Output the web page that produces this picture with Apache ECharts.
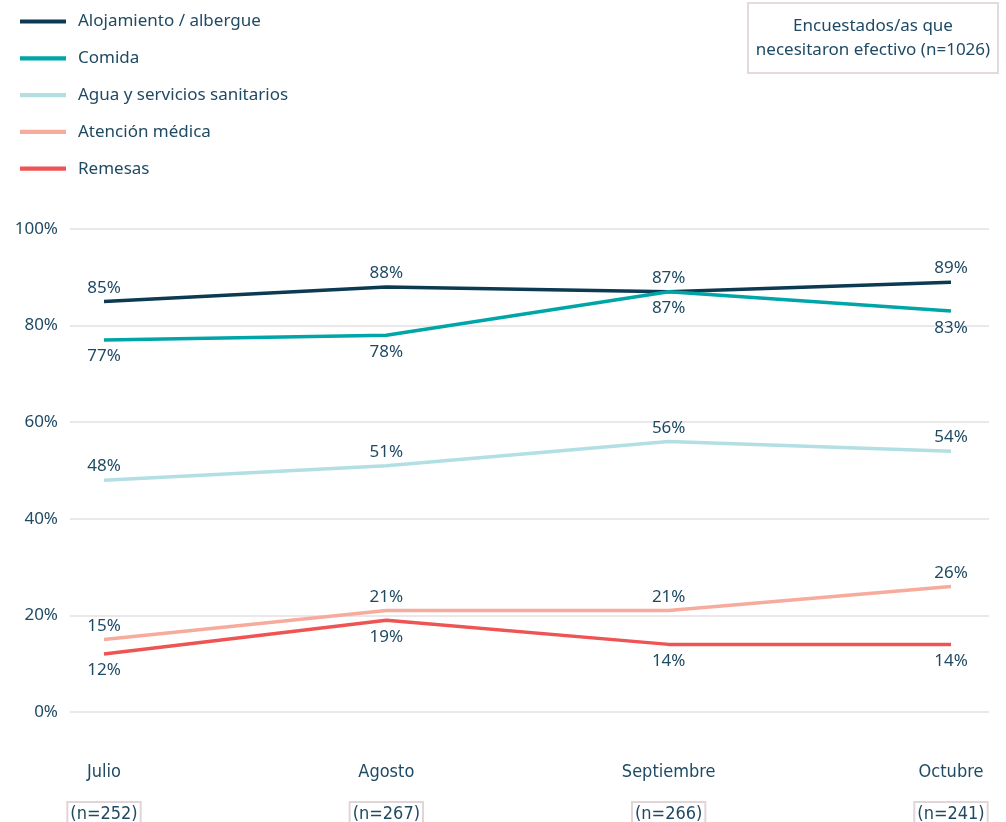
<!DOCTYPE html>
<html>
<head>
<meta charset="utf-8">
<script src="https://cdn.jsdelivr.net/npm/echarts@6/dist/echarts.min.js"></script>
<style>
html,body{margin:0;padding:0;background:#fff;}
#container1{width:1006px;height:822px;}
</style>
</head>
<body>
<div id="container1"></div>
<script>
//数据
var meses=['Julio','Agosto','Septiembre','Octubre'];
var muestras=['(n=252)','(n=267)','(n=266)','(n=241)'];
var nombres=['Alojamiento / albergue','Comida','Agua y servicios sanitarios','Atención médica','Remesas'];
var alojamiento=[85,88,87,89];
var comida=[77,78,87,83];
var agua=[48,51,56,54];
var atencion=[15,21,21,26];
var remesas=[12,19,14,14];
var colores=['#0b3a52','#00a5a8','#b2dfe3','#f7ab9d','#ef5454'];
var posiciones=['top','bottom','top','top','bottom'];

var myChart=echarts.init(document.getElementById('container1'));
var texto='#1f4a63';
var fuente='"Noto Sans", Lato, sans-serif';
var estrecha='"DejaVu Sans Condensed", "Roboto Condensed", Roboto, sans-serif';

function serie(i,datos){
	return {
		name:nombres[i],
		type:'line',
		xAxisIndex:0,
		yAxisIndex:0,
		data:datos,
		symbol:'circle',
		symbolSize:0.1,
		showSymbol:true,
		lineStyle:{width:3.5,color:colores[i]},
		itemStyle:{color:colores[i]},
		label:{
			show:true,
			position:posiciones[i],
			formatter:'{c}%',
			color:texto,
			fontFamily:fuente,
			fontSize:17,
			distance:posiciones[i]=='top'?5:8
		}
	};
}

var option={
	textStyle:{fontFamily:fuente,color:texto},
	title:{
		text:'Encuestados/as que\nnecesitaron efectivo (n=1026)',
		left:865,
		top:3,
		textAlign:'center',
		padding:[11,8,11,8],
		borderColor:'#e3dadd',
		borderWidth:2,
		textStyle:{fontFamily:fuente,fontSize:17,fontWeight:'normal',color:texto,lineHeight:24,align:'center'}
	},
	legend:{
		orient:'vertical',
		left:15,
		top:8,
		itemWidth:46,
		itemHeight:14,
		itemGap:19.8,
		icon:'path://M0,6 L44,6 L44,10 L0,10 Z',
		data:nombres,
		textStyle:{fontFamily:fuente,fontSize:17,color:texto,padding:[0,0,0,7]}
	},
	grid:[
		{left:104,right:55,top:229,bottom:110,outerBoundsMode:'none',containLabel:false},
		{left:70,right:17,top:229,bottom:110,outerBoundsMode:'none',containLabel:false}
	],
	xAxis:[{
		type:'category',
		gridIndex:0,
		boundaryGap:false,
		data:meses,
		axisLine:{show:false},
		axisTick:{show:false},
		axisLabel:{
			margin:30,
			formatter:function(v,idx){
				return '{a|'+v+'}\n{b|'+muestras[idx]+'}';
			},
			rich:{
				a:{fontFamily:estrecha,fontSize:18,color:texto,lineHeight:60},
				b:{fontFamily:estrecha,fontSize:18,color:texto,borderColor:'#e2d5da',borderWidth:2,padding:[3,3,2,3]}
			}
		}
	},{
		type:'category',
		gridIndex:1,
		data:meses,
		show:false
	}],
	yAxis:[{
		type:'value',
		gridIndex:0,
		min:0,
		max:100,
		show:false,
		splitLine:{show:false}
	},{
		type:'value',
		gridIndex:1,
		min:0,
		max:100,
		interval:20,
		axisLine:{show:false},
		axisTick:{show:false},
		axisLabel:{formatter:'{value}%',fontFamily:fuente,fontSize:17,color:texto,margin:12},
		splitLine:{lineStyle:{color:'#e6dfe2',width:1.5}}
	}],
	series:[
		serie(0,alojamiento),
		serie(1,comida),
		serie(2,agua),
		serie(3,atencion),
		serie(4,remesas)
	]
};
myChart.setOption(option);
</script>
</body>
</html>
